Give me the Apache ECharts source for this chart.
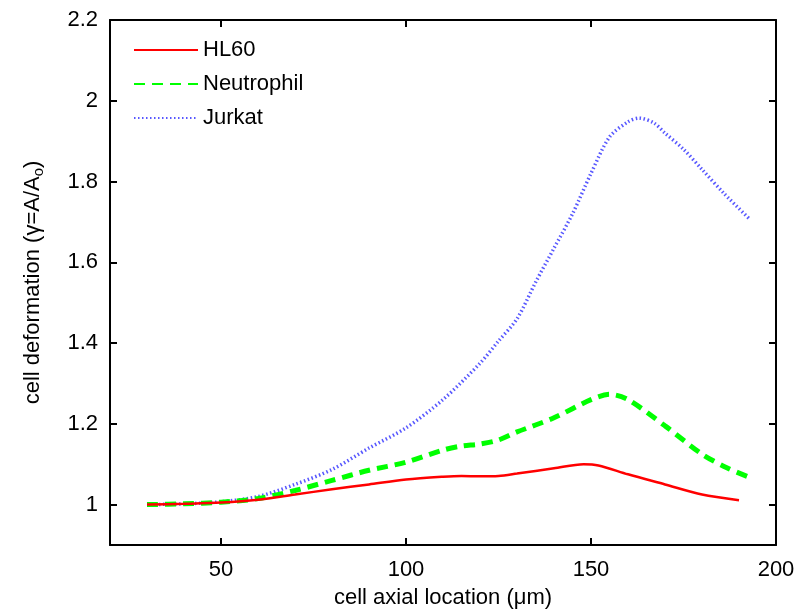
<!DOCTYPE html>
<html>
<head>
<meta charset="utf-8">
<script src="https://cdn.jsdelivr.net/npm/echarts@6/dist/echarts.min.js"></script>
<style>
  html, body { margin: 0; padding: 0; background: #fff; }
  #chart { width: 803px; height: 614px; }
</style>
</head>
<body>
<div id="chart"></div>
<script>
// data
var seriesNames = ['HL60', 'Neutrophil', 'Jurkat'];

var hl60X = [30, 40, 50, 60, 70, 80, 90, 100, 110, 115, 120, 125, 130, 140, 148, 152, 160, 170, 180, 190];
var hl60Y = [1.0, 1.002, 1.005, 1.012, 1.025, 1.038, 1.05, 1.062, 1.069, 1.071, 1.07, 1.071, 1.077, 1.09, 1.1, 1.097, 1.075, 1.05, 1.025, 1.011];

var neutX = [30, 40, 50, 60, 70, 80, 90, 100, 110, 115, 120, 125, 130, 140, 150, 155, 160, 170, 180, 187, 193];
var neutY = [1.0, 1.002, 1.006, 1.015, 1.035, 1.06, 1.085, 1.105, 1.135, 1.145, 1.15, 1.16, 1.18, 1.215, 1.26, 1.273, 1.26, 1.195, 1.125, 1.09, 1.067];

var jurkX = [30, 40, 50, 60, 70, 80, 90, 100, 110, 120, 125, 130, 135, 140, 145, 150, 155, 160, 163, 167, 170, 175, 180, 186, 193];
var jurkY = [1.0, 1.002, 1.007, 1.02, 1.05, 1.087, 1.14, 1.19, 1.26, 1.35, 1.405, 1.46, 1.55, 1.635, 1.72, 1.82, 1.91, 1.948, 1.957, 1.945, 1.92, 1.88, 1.83, 1.77, 1.706];

var xTicks = [50, 100, 150, 200];
var yTicks = [1, 1.2, 1.4, 1.6, 1.8, 2, 2.2];

function pairs(xs, ys) {
  var out = [];
  for (var i = 0; i < xs.length; i++) out.push([xs[i], ys[i]]);
  return out;
}

var font = 'Liberation Sans, Arial, Helvetica, sans-serif';
var boxLine = { show: true, onZero: false, lineStyle: { color: '#000', width: 2 } };
var tickIn = function (vals) {
  return { show: true, inside: true, length: 7, customValues: vals, lineStyle: { color: '#000', width: 2 } };
};

var chart = echarts.init(document.getElementById('chart'));

var option = {
  backgroundColor: '#fff',
  animation: false,
  grid: { left: 110, right: 27, top: 20, bottom: 68 },
  legend: {
    orient: 'vertical',
    left: 128,
    top: 34,
    itemWidth: 64,
    itemHeight: 14,
    itemGap: 12,
    itemStyle: { opacity: 0 },
    textStyle: { fontFamily: font, fontSize: 22, color: '#000' },
    data: seriesNames
  },
  xAxis: [{
    type: 'value',
    min: 20, max: 200,
    position: 'bottom',
    axisLine: boxLine,
    axisTick: tickIn(xTicks),
    splitLine: { show: false },
    axisLabel: { customValues: xTicks, fontFamily: font, fontSize: 22, color: '#000', margin: 14 },
    name: 'cell axial location (μm)',
    nameLocation: 'middle',
    nameGap: 42,
    nameTextStyle: { fontFamily: font, fontSize: 22, color: '#000' }
  }, {
    type: 'value',
    min: 20, max: 200,
    position: 'top',
    axisLine: boxLine,
    axisTick: tickIn(xTicks),
    splitLine: { show: false },
    axisLabel: { show: false }
  }],
  yAxis: [{
    type: 'value',
    min: 0.9, max: 2.2,
    position: 'left',
    axisLine: boxLine,
    axisTick: tickIn(yTicks),
    splitLine: { show: false },
    axisLabel: { customValues: yTicks, fontFamily: font, fontSize: 22, color: '#000', margin: 12 },
    name: 'cell deformation (γ=A/A{sub|o})',
    nameLocation: 'middle',
    nameGap: 64,
    nameTextStyle: {
      fontFamily: font, fontSize: 22, color: '#000',
      rich: { sub: { fontFamily: font, fontSize: 15, color: '#000', padding: [12, 0, 0, 0] } }
    }
  }, {
    type: 'value',
    min: 0.9, max: 2.2,
    position: 'right',
    axisLine: boxLine,
    axisTick: tickIn(yTicks),
    splitLine: { show: false },
    axisLabel: { show: false }
  }],
  series: [{
    name: 'HL60',
    type: 'line',
    smooth: 0.3,
    symbol: 'none',
    data: pairs(hl60X, hl60Y),
    lineStyle: { color: '#ff0000', width: 2.5 },
    itemStyle: { color: '#ff0000' },
    z: 3
  }, {
    name: 'Neutrophil',
    type: 'line',
    smooth: 0.3,
    symbol: 'none',
    data: pairs(neutX, neutY),
    lineStyle: { color: '#00ff00', width: 5, type: [11, 7] },
    itemStyle: { color: '#00ff00' },
    z: 2
  }, {
    name: 'Jurkat',
    type: 'line',
    smooth: 0.3,
    symbol: 'none',
    data: pairs(jurkX, jurkY),
    lineStyle: { color: '#3a3aff', width: 3.5, type: [1.5, 2.5], opacity: 0.85 },
    itemStyle: { color: '#3a3aff' },
    z: 1
  }]
};

chart.setOption(option);
</script>
</body>
</html>
